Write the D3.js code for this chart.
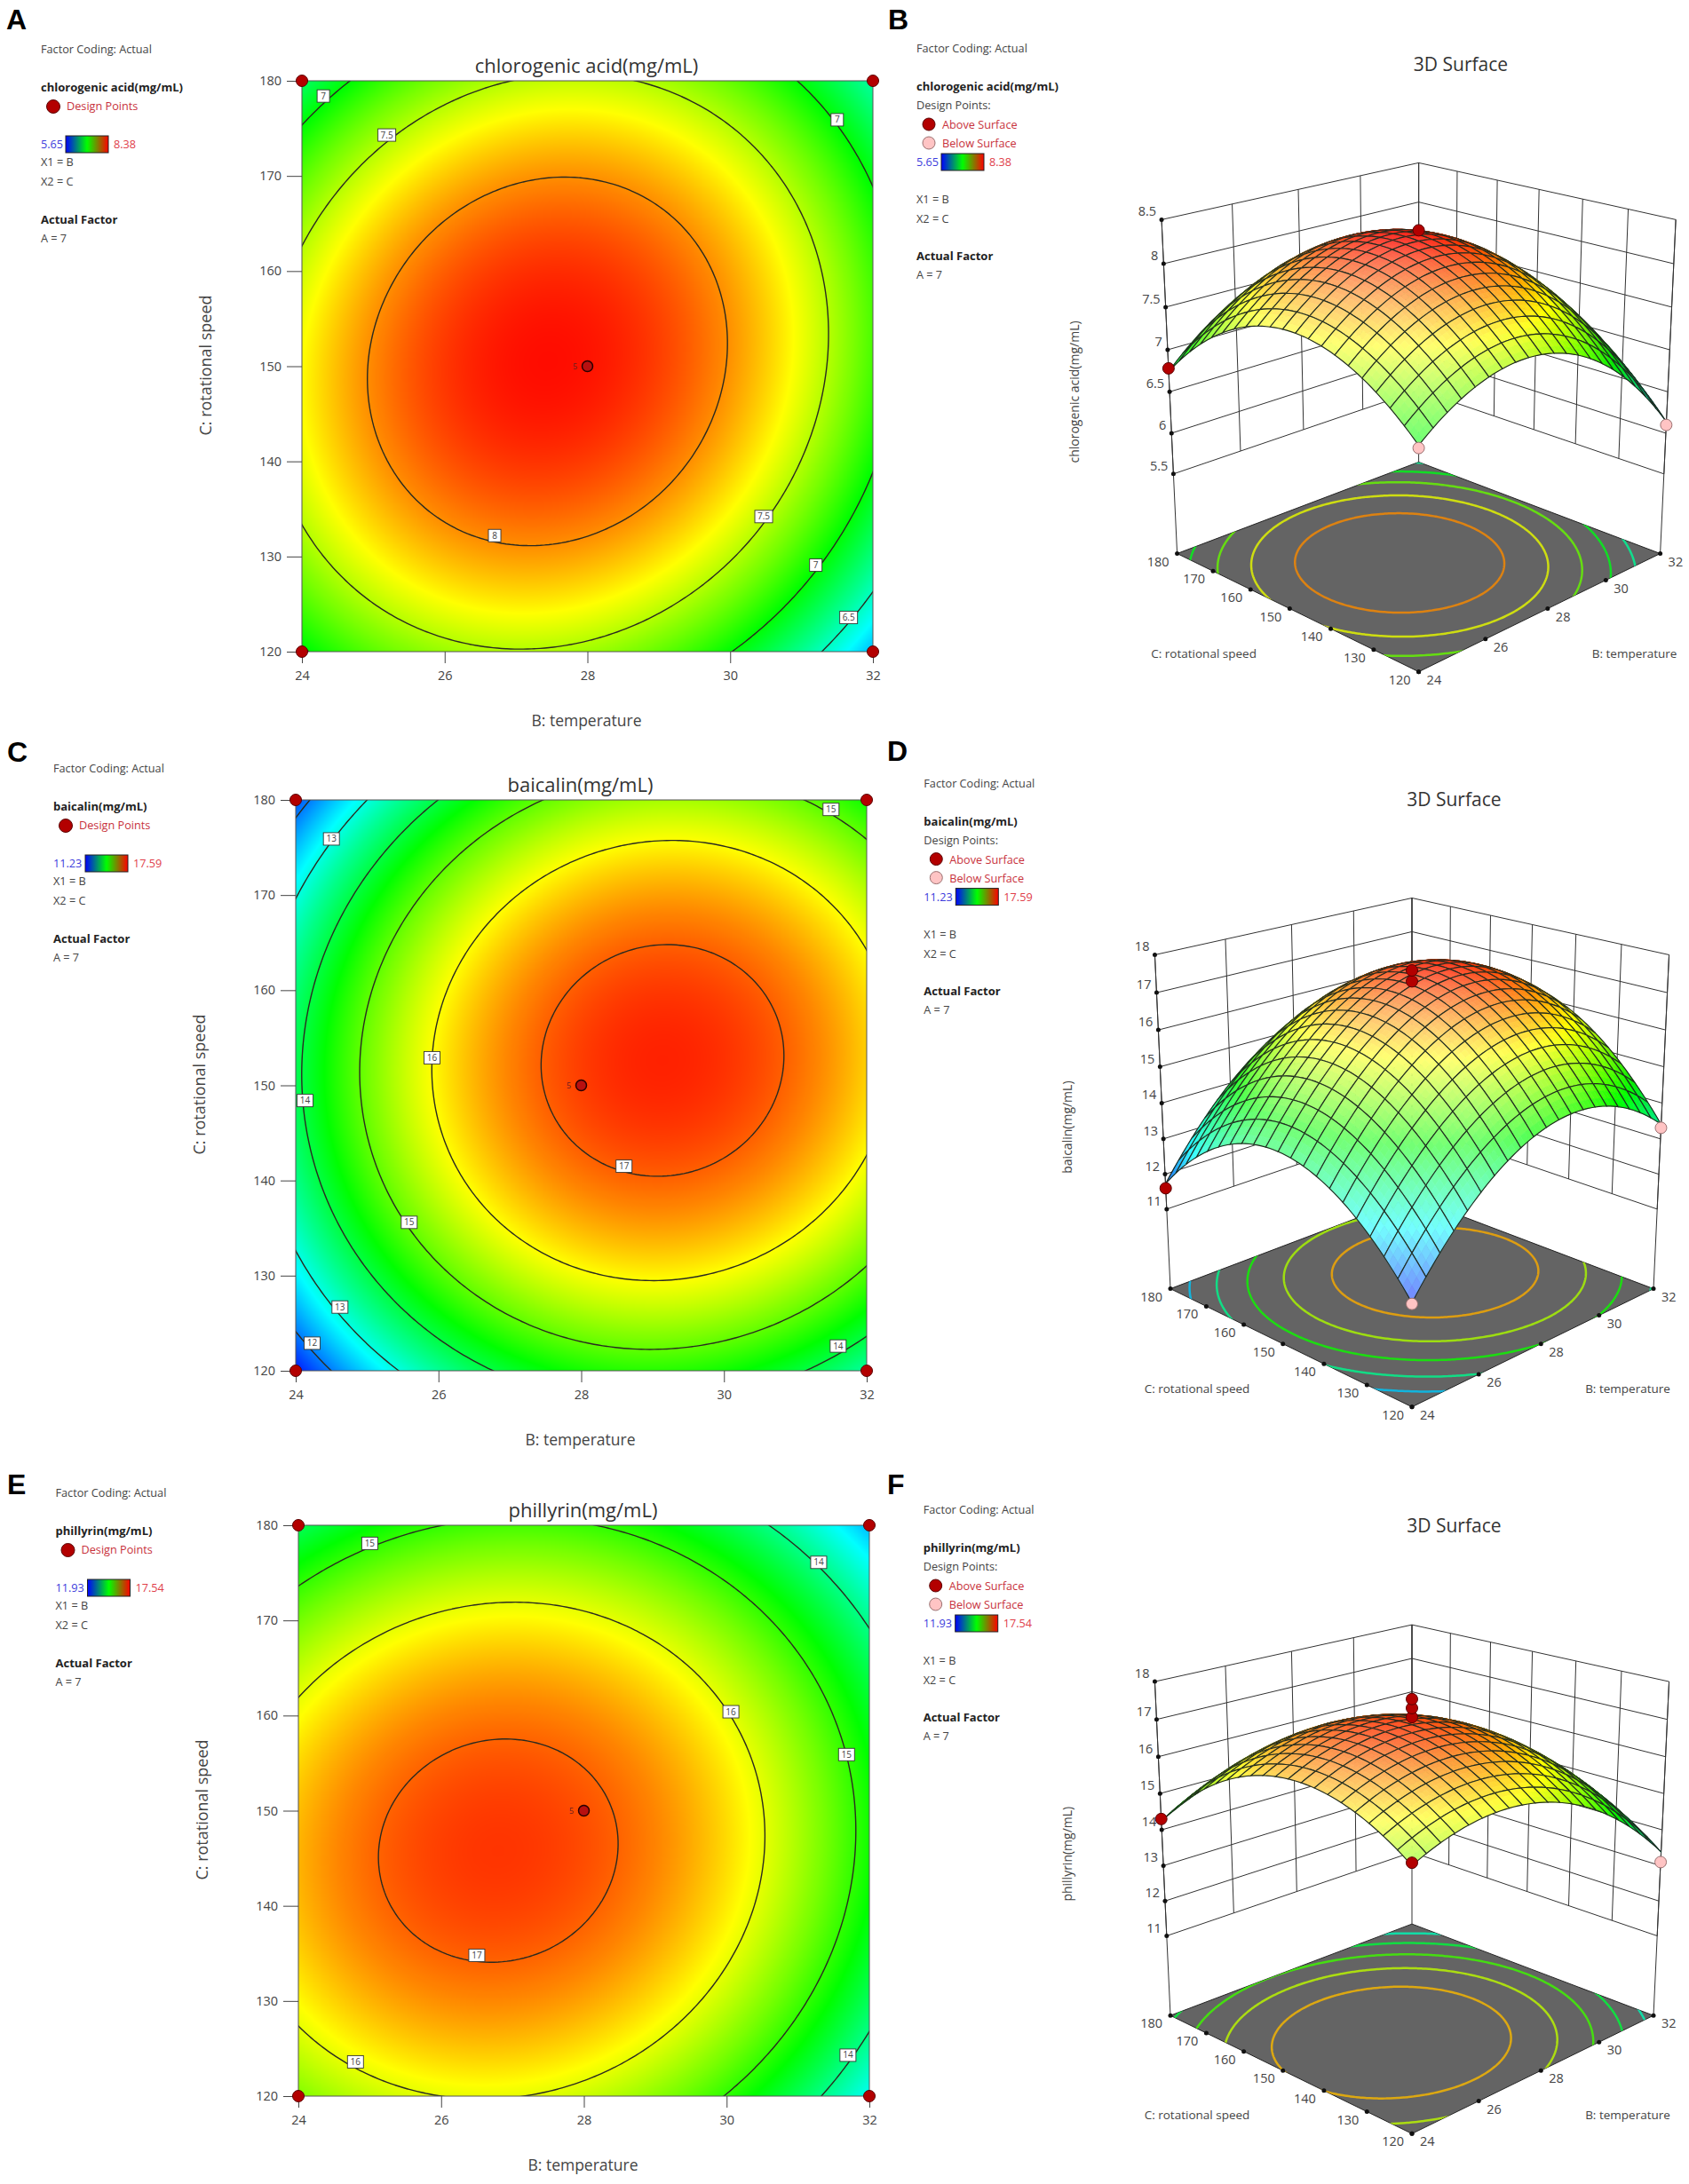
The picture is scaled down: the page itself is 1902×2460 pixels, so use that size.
<!DOCTYPE html>
<html>
<head>
<meta charset="UTF-8">
<title>Response surfaces</title>
<style>
body { margin: 0; background: #fff; }
svg text { font-family: "Open Sans", sans-serif; }
</style>
</head>
<body>
<svg id="chart" width="1902" height="2460"></svg>
<script src="https://d3js.org/d3.v7.min.js"></script>
<script>
// factor levels of the value tables below
const tempNodes = [24, 25, 26, 27, 28, 29, 30, 31, 32];
const speedNodes = [120, 130, 140, 150, 160, 170, 180];
const tempTicks = [24, 26, 28, 30, 32];
const speedTicks = [120, 130, 140, 150, 160, 170, 180];

// response, one row per speed (120 -> 180)
const acidValues = [
	[6.968, 7.251, 7.423, 7.485, 7.436, 7.277, 7.008, 6.628, 6.138],
	[7.398, 7.695, 7.881, 7.956, 7.921, 7.776, 7.521, 7.155, 6.678],
	[7.641, 7.951, 8.151, 8.240, 8.219, 8.088, 7.846, 7.494, 7.031],
	[7.697, 8.021, 8.234, 8.337, 8.330, 8.212, 7.984, 7.646, 7.197],
	[7.566, 7.903, 8.131, 8.247, 8.254, 8.150, 7.936, 7.611, 7.176],
	[7.247, 7.599, 7.840, 7.970, 7.990, 7.900, 7.700, 7.389, 6.967],
	[6.742, 7.107, 7.362, 7.506, 7.540, 7.463, 7.277, 6.979, 6.572]
];
const baicalinValues = [
	[11.379, 12.560, 13.477, 14.128, 14.513, 14.634, 14.490, 14.080, 13.406],
	[12.732, 13.928, 14.859, 15.525, 15.926, 16.062, 15.932, 15.538, 14.878],
	[13.566, 14.778, 15.724, 16.405, 16.821, 16.971, 16.857, 16.478, 15.833],
	[13.883, 15.110, 16.071, 16.767, 17.198, 17.363, 17.264, 16.899, 16.270],
	[13.683, 14.924, 15.900, 16.611, 17.057, 17.238, 17.153, 16.804, 16.189],
	[12.964, 14.220, 15.211, 15.937, 16.398, 16.594, 16.525, 16.190, 15.590],
	[11.727, 12.999, 14.005, 14.746, 15.222, 15.432, 15.378, 15.059, 14.474]
];
const phillyrinValues = [
	[15.431, 15.805, 16.000, 16.014, 15.848, 15.502, 14.976, 14.270, 13.383],
	[16.155, 16.545, 16.754, 16.784, 16.634, 16.303, 15.792, 15.102, 14.231],
	[16.510, 16.915, 17.141, 17.186, 17.051, 16.735, 16.240, 15.565, 14.709],
	[16.496, 16.917, 17.158, 17.218, 17.099, 16.799, 16.319, 15.659, 14.819],
	[16.114, 16.550, 16.806, 16.882, 16.778, 16.494, 16.029, 15.385, 14.560],
	[15.362, 15.814, 16.085, 16.177, 16.088, 15.819, 15.370, 14.741, 13.932],
	[14.242, 14.709, 14.996, 15.103, 15.029, 14.776, 14.342, 13.728, 12.935]
];

const acidLevels = [6.5, 7, 7.5, 8];
const baicalinLevels = [12, 13, 14, 15, 16, 17];
const phillyrinLevels = [14, 15, 16, 17];

// the rings on the floor of the 3D plots use their own levels
const acidFloorLevels = [6.6, 6.95, 7.3, 7.65, 8];
const baicalinFloorLevels = [12.5, 13.5, 14.5, 15.5, 16.5];
const phillyrinFloorLevels = [13.7, 14.4, 15.1, 15.8, 16.5];

const acidRange = [5.65, 8.38];
const baicalinRange = [11.23, 17.59];
const phillyrinRange = [11.93, 17.54];

const acidZTicks = [5.5, 6, 6.5, 7, 7.5, 8, 8.5];
const baicalinZTicks = [11, 12, 13, 14, 15, 16, 17, 18];
const phillyrinZTicks = [11, 12, 13, 14, 15, 16, 17, 18];

// contour label anchors: [temperature, speed, level]
const acidLabels = [[24.3, 178.4, "7"], [25.19, 174.3, "7.5"], [31.5, 175.9, "7"], [26.7, 132.2, "8"], [30.47, 134.2, "7.5"], [31.2, 129.1, "7"], [31.66, 123.6, "6.5"]];
const baicalinLabels = [[31.5, 179, "15"], [24.5, 175.9, "13"], [25.91, 152.9, "16"], [24.13, 148.4, "14"], [28.6, 141.5, "17"], [25.59, 135.6, "15"], [24.62, 126.7, "13"], [24.23, 122.9, "12"], [31.6, 122.6, "14"]];
const phillyrinLabels = [[25, 178.1, "15"], [31.29, 176.1, "14"], [30.06, 160.4, "16"], [31.68, 155.9, "15"], [26.5, 134.8, "17"], [24.8, 123.6, "16"], [31.7, 124.3, "14"]];

// design points: [temperature, speed]
const cornerPoints = [[24, 180], [32, 180], [24, 120], [32, 120]];
const centerPoint = [28, 150];

// design points on the 3D plots: [temperature, speed, response, above surface]
const acidPoints3d = [[32, 180, 6.55, 1], [24, 180, 6.78, 1], [24, 120, 6.94, 0], [32, 120, 6.1, 0], [28, 150, 8.38, 1]];
const baicalinPoints3d = [[32, 180, 14.5, 1], [24, 180, 11.6, 1], [24, 120, 11.35, 0], [32, 120, 13.31, 0], [28, 150, 17.3, 1], [28, 150, 17.59, 1]];
const phillyrinPoints3d = [[32, 180, 12.95, 1], [24, 180, 14.3, 1], [24, 120, 15.5, 1], [32, 120, 13.1, 0], [28, 150, 17.06, 1], [28, 150, 17.3, 1], [28, 150, 17.54, 1]];

const svg = d3.select("#chart");
const defs = svg.append("defs");
const TEXT = "#444";
const extent = { temp: [23.2, 32.8], speed: [114, 186] };

const barGrad = defs.append("linearGradient").attr("id", "barGrad");
[["0%", "#0000ff"], ["50%", "#00ff00"], ["100%", "#ff0000"]].forEach(s => {
	barGrad.append("stop").attr("offset", s[0]).attr("stop-color", s[1]);
});

function colorScale(range) {
	let span = range[1] - range[0];
	return d3.scaleLinear()
		.domain([0, 0.25, 0.5, 0.75, 1].map(f => range[0] + f * span))
		.range(["#0000ff", "#00ffff", "#00ff00", "#ffff00", "#ff0000"])
		.clamp(true);
}

// cubic resampling of a value table so the surfaces are smooth on screen
function cubic(a, b, c, d, t) {
	return b + 0.5 * t * (c - a + t * (2 * a - 5 * b + 4 * c - d + t * (3 * (b - c) + d - a)));
}
function sampler(table) {
	let ny = table.length, nx = table[0].length;
	function rowAt(j, u, i, t) {
		if (j < 0) return 3 * rowAt(0, u, i, t) - 3 * rowAt(1, u, i, t) + rowAt(2, u, i, t);
		if (j >= ny) return 3 * rowAt(ny - 1, u, i, t) - 3 * rowAt(ny - 2, u, i, t) + rowAt(ny - 3, u, i, t);
		let r = table[j];
		let p0 = i > 0 ? r[i - 1] : 3 * r[0] - 3 * r[1] + r[2];
		let p3 = i + 2 < nx ? r[i + 2] : 3 * r[nx - 1] - 3 * r[nx - 2] + r[nx - 3];
		return cubic(p0, r[i], r[i + 1], p3, t);
	}
	return function(temp, speed) {
		let u = temp - tempNodes[0];
		let v = (speed - speedNodes[0]) / 10;
		let i = Math.max(0, Math.min(nx - 2, Math.floor(u)));
		let j = Math.max(0, Math.min(ny - 2, Math.floor(v)));
		return cubic(rowAt(j - 1, u, i, u - i), rowAt(j, u, i, u - i), rowAt(j + 1, u, i, u - i), rowAt(j + 2, u, i, u - i), v - j);
	};
}

// contour rings in data units, drawn past the plot edge and clipped later
function contourRings(table, levels) {
	let f = sampler(table), n = 161;
	let tx = d3.scaleLinear().domain([0, n - 1]).range(extent.temp);
	let ty = d3.scaleLinear().domain([0, n - 1]).range(extent.speed);
	let vals = new Float64Array(n * n);
	for (let j = 0; j < n; j++) {
		for (let i = 0; i < n; i++) vals[i + j * n] = f(tx(i), ty(j));
	}
	let out = [];
	d3.contours().size([n, n]).thresholds(levels)(vals).forEach(c => {
		c.coordinates.forEach(poly => poly.forEach(ring => {
			out.push({ level: c.value, pts: ring.map(p => [tx(p[0] - 0.5), ty(p[1] - 0.5)]) });
		}));
	});
	return out;
}

function heatmapUrl(table, range, size) {
	let f = sampler(table), color = colorScale(range);
	let lut = d3.range(1025).map(k => d3.rgb(color(range[0] + (range[1] - range[0]) * k / 1024)));
	let canvas = document.createElement("canvas");
	canvas.width = canvas.height = size;
	let ctx = canvas.getContext("2d");
	let img = ctx.createImageData(size, size);
	for (let j = 0; j < size; j++) {
		let speed = 180 - 60 * (j + 0.5) / size;
		for (let i = 0; i < size; i++) {
			let temp = 24 + 8 * (i + 0.5) / size;
			let k = Math.round((f(temp, speed) - range[0]) / (range[1] - range[0]) * 1024);
			let c = lut[Math.max(0, Math.min(1024, k))];
			let o = (i + j * size) * 4;
			img.data[o] = c.r; img.data[o + 1] = c.g; img.data[o + 2] = c.b; img.data[o + 3] = 255;
		}
	}
	ctx.putImageData(img, 0, 0);
	return canvas.toDataURL();
}

function label(g, x, y, txt, size, opts) {
	opts = opts || {};
	return g.append("text").attr("x", x).attr("y", y).text(txt)
		.attr("font-size", size)
		.attr("fill", opts.fill || TEXT)
		.attr("font-weight", opts.bold ? 700 : 400)
		.attr("text-anchor", opts.anchor || "start");
}

function letter(x, y, txt) {
	label(svg, x, y, txt, 32, { fill: "#000", bold: true }).style("font-family", "'Liberation Sans', Arial, sans-serif");
}

function colorBar(g, x, y, w, h) {
	g.append("rect").attr("x", x).attr("y", y).attr("width", w).attr("height", h)
		.attr("fill", "url(#barGrad)").attr("stroke", "#222").attr("stroke-width", 1);
}

function designDot(g, x, y, r, above) {
	g.append("circle").attr("cx", x).attr("cy", y).attr("r", r)
		.attr("fill", above ? "#b30000" : "#ffc4c4")
		.attr("stroke", above ? "#5a0000" : "#9a7070")
		.attr("stroke-width", 1);
}

function legend2d(dx, dy, name, range) {
	let g = svg.append("g").attr("transform", `translate(${dx},${dy})`);
	let shift = range[0] >= 10 ? 8 : 0;
	label(g, 46, 60, "Factor Coding: Actual", 12.7);
	label(g, 46, 103, name, 13, { bold: true, fill: "#222" });
	designDot(g, 60, 120, 7.5, true);
	label(g, 75, 124, "Design Points", 12.7, { fill: "#c8323c" });
	label(g, 46, 167, range[0].toFixed(2), 12.7, { fill: "#3c3cdc" });
	colorBar(g, 74 + shift, 153, 48, 19);
	label(g, 128 + shift, 167, range[1].toFixed(2), 12.7, { fill: "#e0404a" });
	label(g, 46, 187, "X1 = B", 12.7);
	label(g, 46, 209, "X2 = C", 12.7);
	label(g, 46, 252, "Actual Factor", 13, { bold: true, fill: "#222" });
	label(g, 46, 273, "A = 7", 12.7);
}

function legend3d(dx, dy, name, range) {
	let g = svg.append("g").attr("transform", `translate(${dx},${dy})`);
	let shift = range[0] >= 10 ? 8 : 0;
	label(g, 1032, 59, "Factor Coding: Actual", 12.7);
	label(g, 1032, 102, name, 13, { bold: true, fill: "#222" });
	label(g, 1032, 123, "Design Points:", 12.7);
	designDot(g, 1046, 140, 7, true);
	label(g, 1061, 145, "Above Surface", 12.7, { fill: "#c8323c" });
	designDot(g, 1046, 161, 7, false);
	label(g, 1061, 166, "Below Surface", 12.7, { fill: "#c8323c" });
	label(g, 1032, 187, range[0].toFixed(2), 12.7, { fill: "#3c3cdc" });
	colorBar(g, 1060 + shift, 173, 48, 19);
	label(g, 1114 + shift, 187, range[1].toFixed(2), 12.7, { fill: "#e0404a" });
	label(g, 1032, 229, "X1 = B", 12.7);
	label(g, 1032, 251, "X2 = C", 12.7);
	label(g, 1032, 293, "Actual Factor", 13, { bold: true, fill: "#222" });
	label(g, 1032, 314, "A = 7", 12.7);
}

function contourPanel(cfg) {
	let size = 643;
	let x = d3.scaleLinear().domain([24, 32]).range([cfg.left, cfg.left + size]);
	let y = d3.scaleLinear().domain([120, 180]).range([cfg.top + size, cfg.top]);
	let g = svg.append("g");

	g.append("image").attr("x", cfg.left).attr("y", cfg.top).attr("width", size).attr("height", size)
		.attr("preserveAspectRatio", "none")
		.attr("href", heatmapUrl(cfg.values, cfg.range, size));

	let clip = "clip" + cfg.id;
	defs.append("clipPath").attr("id", clip).append("rect")
		.attr("x", cfg.left).attr("y", cfg.top).attr("width", size).attr("height", size);

	let line = d3.line().x(d => x(d[0])).y(d => y(d[1]));
	g.append("g").attr("clip-path", `url(#${clip})`)
		.selectAll("path").data(contourRings(cfg.values, cfg.levels)).join("path")
		.attr("d", d => line(d.pts))
		.attr("fill", "none").attr("stroke", "#2a2a20").attr("stroke-width", 1.4);

	g.append("rect").attr("x", cfg.left).attr("y", cfg.top).attr("width", size).attr("height", size)
		.attr("fill", "none").attr("stroke", "#555").attr("stroke-width", 1);

	let ax = g.append("g").attr("transform", `translate(0,${cfg.top + size})`)
		.call(d3.axisBottom(x).tickValues(tempTicks).tickSize(13).tickPadding(9).tickSizeOuter(0));
	let ay = g.append("g").attr("transform", `translate(${cfg.left},0)`)
		.call(d3.axisLeft(y).tickValues(speedTicks).tickSize(17).tickPadding(6).tickSizeOuter(0));
	[ax, ay].forEach(a => {
		a.select(".domain").remove();
		a.selectAll("line").attr("stroke", "#444");
		a.selectAll("text").attr("font-size", 14.5).attr("fill", TEXT);
	});

	// contour value tags
	let tags = g.selectAll("g.tag").data(cfg.labels).join("g").attr("class", "tag")
		.attr("transform", d => `translate(${x(d[0])},${y(d[1])})`);
	tags.append("rect")
		.attr("x", d => d[2].length > 2 ? -10 : (d[2].length > 1 ? -9 : -7)).attr("y", -7)
		.attr("width", d => d[2].length > 2 ? 20 : (d[2].length > 1 ? 18 : 14)).attr("height", 14)
		.attr("fill", "#fff").attr("stroke", "#333").attr("stroke-width", 0.9);
	tags.append("text").text(d => d[2])
		.attr("text-anchor", "middle").attr("y", 3.5).attr("font-size", 10).attr("fill", "#444");

	cornerPoints.forEach(p => designDot(g, x(p[0]), y(p[1]), 6.5, true));
	g.append("circle").attr("cx", x(centerPoint[0])).attr("cy", y(centerPoint[1])).attr("r", 6)
		.attr("fill", "#b81010").attr("stroke", "#2a0000").attr("stroke-width", 1.5);
	label(g, x(centerPoint[0]) - 14, y(centerPoint[1]) + 3, "5", 9, { fill: "#6a2020", anchor: "middle" });

	label(g, cfg.left + size / 2 - 1, cfg.top - 9, cfg.name, 22, { anchor: "middle", fill: "#333" });
	label(g, cfg.left + size / 2 - 1, cfg.top + size + 84, "B: temperature", 17.5, { anchor: "middle" });
	label(g, 0, 0, "C: rotational speed", 18, { anchor: "middle" })
		.attr("transform", `translate(${cfg.left - 102},${cfg.top + size / 2 - 1}) rotate(-90)`);
}

// projection of the 3D box: x, y in -1..1, w 0 (floor) .. 1 (top of the walls)
function boxProjection(dx, dy) {
	return function(px, py, w) {
		let t = px + py;
		let W = 1 + 0.0637 * t - 0.0606 * w;
		return [1597.6 + dx + 136 * (px - py) / W, dy + (623.5 - 18.38 * t - 391.1 * w) / W];
	};
}

function surfacePanel(cfg) {
	let proj = boxProjection(cfg.dx, cfg.dy);
	let g = svg.append("g");
	let zLow = cfg.zTicks[0], zTop = cfg.zTicks[cfg.zTicks.length - 1];
	let zFloor = zLow - (zTop - zLow) / 3;
	let wOf = d3.scaleLinear().domain([zFloor, zTop]).range([0, 1]);
	let cx = d3.scaleLinear().domain([24, 32]).range([-1, 1]);
	let cy = d3.scaleLinear().domain([120, 180]).range([-1, 1]);
	let color = colorScale(cfg.range);
	let f = sampler(cfg.values);
	let at = (t, s, w) => proj(cx(t), cy(s), w);
	let line = d3.line();
	let closed = pts => line(pts) + "Z";

	// floor rings are a little duller than the surface colours
	let ringColor = z => {
		let c = d3.rgb(color(z));
		let dull = v => (v * 0.86 + 128 * 0.14) * 0.93;
		return d3.rgb(dull(c.r), dull(c.g), dull(c.b)).formatHex();
	};

	let floor = [at(24, 120, 0), at(32, 120, 0), at(32, 180, 0), at(24, 180, 0)];
	g.append("path").attr("d", closed(floor)).attr("fill", "#646464").attr("stroke", "#222").attr("stroke-width", 1);
	let clip = "clip" + cfg.id;
	defs.append("clipPath").attr("id", clip).append("path").attr("d", closed(floor));
	g.append("g").attr("clip-path", `url(#${clip})`)
		.selectAll("path").data(contourRings(cfg.values, cfg.floorLevels)).join("path")
		.attr("d", d => line(d.pts.map(p => at(p[0], p[1], 0))))
		.attr("fill", "none").attr("stroke", d => ringColor(d.level)).attr("stroke-width", 2.5);

	// walls
	let wLow = wOf(zLow);
	let walls = g.append("g").attr("fill", "none").attr("stroke", "#333").attr("stroke-width", 1);
	cfg.zTicks.forEach(z => {
		let w = wOf(z);
		walls.append("path").attr("d", line([at(24, 180, w), at(32, 180, w), at(32, 120, w)]));
	});
	tempTicks.forEach(t => {
		walls.append("path").attr("d", line([at(t, 180, wLow), at(t, 180, 1)]));
	});
	speedTicks.forEach(s => {
		walls.append("path").attr("d", line([at(32, s, wLow), at(32, s, 1)]));
	});
	[[24, 180], [32, 180], [32, 120]].forEach(c => {
		walls.append("path").attr("d", line([at(c[0], c[1], 0), at(c[0], c[1], 1)]));
	});

	// back corner point sits behind the dome
	let points = cfg.points.map(p => ({ pos: at(p[0], p[1], wOf(p[2])), above: p[3], back: p[0] == 32 && p[1] == 180 }));
	points.filter(p => p.back).forEach(p => designDot(g, p.pos[0], p.pos[1], 6.5, p.above));

	// surface, back to front so the dome hides what lies behind it
	let cells = 20, sub = 3;
	let tempAt = d3.scaleLinear().domain([0, cells]).range([24, 32]);
	let speedAt = d3.scaleLinear().domain([0, cells]).range([120, 180]);
	let vertex = (a, b) => {
		let t = tempAt(a), s = speedAt(b);
		return at(t, s, wOf(f(t, s)));
	};
	let shade = (a, b) => {
		let t = tempAt(a), s = speedAt(b), e = 0.05;
		let dzx = (wOf(f(t + e * 4, s)) - wOf(f(t - e * 4, s))) / (2 * e) * cfg.relief;
		let dzy = (wOf(f(t, s + e * 30)) - wOf(f(t, s - e * 30))) / (2 * e) * cfg.relief;
		let len = Math.hypot(dzx, dzy, 1);
		let lit = (0.55 * dzx + 0.25 * dzy + 0.72) / (0.94 * len);
		let base = d3.rgb(color(f(t, s)));
		let white = Math.max(0, Math.min(0.45, (lit - 0.72) * 1.6 + 0.1));
		let black = Math.max(0, Math.min(0.6, (0.6 - lit) * 1.1));
		let mix = c => (c + (255 - c) * white) * (1 - black);
		return d3.rgb(mix(base.r), mix(base.g), mix(base.b)).formatHex();
	};
	let pieces = [];
	for (let i = cells - 1; i >= 0; i--) {
		for (let j = cells - 1; j >= 0; j--) {
			for (let a = sub - 1; a >= 0; a--) {
				for (let b = sub - 1; b >= 0; b--) {
					let a0 = i + a / sub, a1 = i + (a + 1) / sub, b0 = j + b / sub, b1 = j + (b + 1) / sub;
					let fill = shade((a0 + a1) / 2, (b0 + b1) / 2);
					pieces.push({
						d: closed([vertex(a0, b0), vertex(a1, b0), vertex(a1, b1), vertex(a0, b1)]),
						fill: fill, stroke: fill, width: 0.7
					});
				}
			}
			let edge = [];
			for (let k = 0; k <= sub; k++) edge.push(vertex(i + k / sub, j));
			for (let k = 1; k <= sub; k++) edge.push(vertex(i + 1, j + k / sub));
			for (let k = 1; k <= sub; k++) edge.push(vertex(i + 1 - k / sub, j + 1));
			for (let k = 1; k <= sub; k++) edge.push(vertex(i, j + 1 - k / sub));
			pieces.push({ d: closed(edge), fill: "none", stroke: "#1f2a1f", width: 1.15 });
		}
	}
	g.append("g").selectAll("path").data(pieces).join("path")
		.attr("d", d => d.d).attr("fill", d => d.fill)
		.attr("stroke", d => d.stroke).attr("stroke-width", d => d.width);

	points.filter(p => !p.back).forEach(p => designDot(g, p.pos[0], p.pos[1], 6.5, p.above));

	// ticks and labels
	let dot = p => g.append("circle").attr("cx", p[0]).attr("cy", p[1]).attr("r", 2.5).attr("fill", "#111");
	cfg.zTicks.forEach(z => {
		let p = at(24, 180, wOf(z));
		dot(p);
		label(g, p[0] - 6, p[1] - 4, String(z), 14.5, { anchor: "end" });
	});
	speedTicks.forEach(s => {
		let p = at(24, s, 0);
		dot(p);
		label(g, p[0] - 9, p[1] + 14, String(s), 14.5, { anchor: "end" });
	});
	tempTicks.forEach(t => {
		let p = at(t, 120, 0);
		dot(p);
		label(g, p[0] + 9, p[1] + 14, String(t), 14.5);
	});

	let L = at(24, 180, 0);
	label(g, L[0] + 30, L[1] + 117, "C: rotational speed", 13.5, { anchor: "middle" });
	label(g, L[0] + 515, L[1] + 117, "B: temperature", 13.5, { anchor: "middle" });
	label(g, 0, 0, cfg.name, 14, { anchor: "middle" })
		.attr("transform", `translate(${L[0] - 111},${L[1] - 182}) rotate(-90)`);
	label(g, 1645 + cfg.dx, cfg.titleY, "3D Surface", 21, { anchor: "middle", fill: "#333" });
}

letter(7, 33, "A");
letter(1000, 33, "B");
letter(8, 858, "C");
letter(999, 857, "D");
letter(8, 1683, "E");
letter(999, 1683, "F");

legend2d(0, 0, "chlorogenic acid(mg/mL)", acidRange);
legend2d(14, 810, "baicalin(mg/mL)", baicalinRange);
legend2d(16.5, 1626, "phillyrin(mg/mL)", phillyrinRange);
legend3d(0, 0, "chlorogenic acid(mg/mL)", acidRange);
legend3d(8.3, 827.6, "baicalin(mg/mL)", baicalinRange);
legend3d(7.7, 1646, "phillyrin(mg/mL)", phillyrinRange);

contourPanel({ id: "A", left: 340, top: 91, name: "chlorogenic acid(mg/mL)", values: acidValues, levels: acidLevels, range: acidRange, labels: acidLabels });
contourPanel({ id: "C", left: 333, top: 901, name: "baicalin(mg/mL)", values: baicalinValues, levels: baicalinLevels, range: baicalinRange, labels: baicalinLabels });
contourPanel({ id: "E", left: 336, top: 1718, name: "phillyrin(mg/mL)", values: phillyrinValues, levels: phillyrinLevels, range: phillyrinRange, labels: phillyrinLabels });

surfacePanel({ id: "B", dx: 0, dy: 0, titleY: 80, name: "chlorogenic acid(mg/mL)", values: acidValues, floorLevels: acidFloorLevels, range: acidRange, zTicks: acidZTicks, points: acidPoints3d, relief: 1.4 });
surfacePanel({ id: "D", dx: -7.6, dy: 828.1, titleY: 908, name: "baicalin(mg/mL)", values: baicalinValues, floorLevels: baicalinFloorLevels, range: baicalinRange, zTicks: baicalinZTicks, points: baicalinPoints3d, relief: 1.4 });
surfacePanel({ id: "F", dx: -7.6, dy: 1646.7, titleY: 1726, name: "phillyrin(mg/mL)", values: phillyrinValues, floorLevels: phillyrinFloorLevels, range: phillyrinRange, zTicks: phillyrinZTicks, points: phillyrinPoints3d, relief: 1.4 });
</script>
</body>
</html>
